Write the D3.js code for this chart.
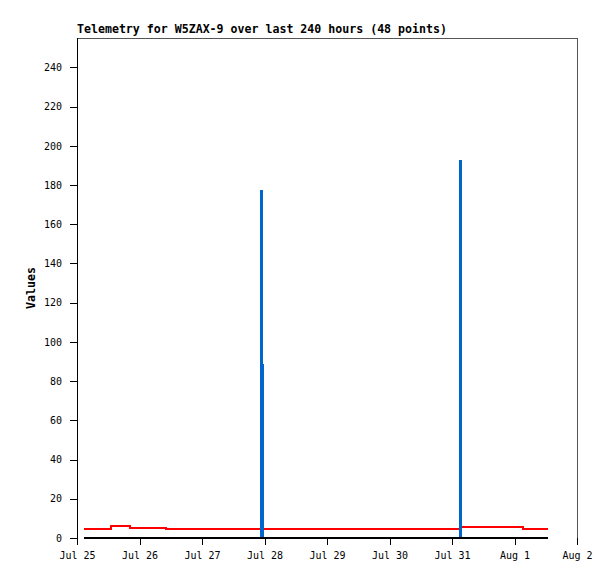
<!DOCTYPE html>
<html>
<head>
<meta charset="utf-8">
<script src="https://cdn.jsdelivr.net/npm/d3@7"></script>
<style>
  body { margin: 0; background: #fff; }
  #chart { width: 615px; height: 579px; }
  text { font-family: "DejaVu Sans Mono", "Liberation Mono", monospace; fill: #000; }
</style>
</head>
<body>
<div id="chart"></div>
<script>
"use strict";

// hours after Jul 25 00:00 for each of the 48 telemetry packets
const hours = [2.8, 6.5, 10.2, 13.1, 16.9, 20.4, 24.3, 28.0, 31.2, 34.1, 38.0, 42.5,
    47.1, 51.6, 55.8, 60.3, 64.9, 68.2, 70.6, 71.0, 71.4, 75.4, 80.1, 85.0,
    90.3, 95.2, 100.4, 105.6, 110.7, 115.9, 121.0, 126.2, 131.3, 136.5, 141.6, 145.2,
    147.0, 147.4, 151.8, 155.9, 160.2, 164.6, 168.3, 171.1, 174.0, 176.6, 179.0, 181.0];

const redValues = [4.6, 4.6, 4.6, 6.0, 6.0, 5.3, 5.3, 5.3, 5.3, 4.6, 4.6, 4.6,
    4.6, 4.6, 4.6, 4.6, 4.6, 4.6, 4.6, 4.6, 4.6, 4.6, 4.6, 4.6,
    4.6, 4.6, 4.6, 4.6, 4.6, 4.6, 4.6, 4.6, 4.6, 4.6, 4.6, 4.6,
    4.6, 5.6, 5.6, 5.6, 5.6, 5.6, 5.6, 4.6, 4.6, 4.6, 4.6, 4.6];

const blueValues = [0, 0, 0, 0, 0, 0, 0, 0, 0, 0, 0, 0,
    0, 0, 0, 0, 0, 0, 177, 88, 0, 0, 0, 0,
    0, 0, 0, 0, 0, 0, 0, 0, 0, 0, 0, 0,
    192.5, 0, 0, 0, 0, 0, 0, 0, 0, 0, 0, 0];

const blackValues = [0, 0, 0, 0, 0, 0, 0, 0, 0, 0, 0, 0,
    0, 0, 0, 0, 0, 0, 0, 0, 0, 0, 0, 0,
    0, 0, 0, 0, 0, 0, 0, 0, 0, 0, 0, 0,
    0, 0, 0, 0, 0, 0, 0, 0, 0, 0, 0, 0];

const yTicks = [0, 20, 40, 60, 80, 100, 120, 140, 160, 180, 200, 220, 240];
const startDate = Date.UTC(2024, 6, 25);
const endDate = Date.UTC(2024, 7, 2);

function drawChart() {
    const width = 615, height = 579;
    const margin = { top: 38, left: 77, right: 38, bottom: 41 };

    const svg = d3.select("#chart").append("svg")
        .attr("width", width)
        .attr("height", height);

    // Scales
    const x = d3.scaleUtc()
        .domain([new Date(startDate), new Date(endDate)])
        .range([margin.left, width - margin.right]);
    const y = d3.scaleLinear()
        .domain([0, 255])
        .range([height - margin.bottom, margin.top]);

    const times = hours.map(h => new Date(startDate + h * 3600 * 1000));

    // Frame (top and right are grey, left is black)
    svg.append("path")
        .attr("d", `M${x.range()[0]},${y(255)}H${x.range()[1]}V${y(0) + 7}`)
        .attr("fill", "none")
        .attr("stroke", "#555")
        .attr("stroke-width", 1)
        .attr("shape-rendering", "crispEdges");

    // Y axis
    const yAxis = svg.append("g")
        .attr("transform", `translate(${margin.left},0)`)
        .call(d3.axisLeft(y).tickValues(yTicks).tickSize(7).tickPadding(8));
    yAxis.select(".domain").remove();
    yAxis.selectAll("text").style("font-size", "10px");
    yAxis.selectAll("line").attr("shape-rendering", "crispEdges");
    svg.append("line")
        .attr("x1", margin.left).attr("x2", margin.left)
        .attr("y1", y(255)).attr("y2", y(0) + 7)
        .attr("stroke", "#000")
        .attr("shape-rendering", "crispEdges");

    // X axis (ticks only)
    const xAxis = svg.append("g")
        .attr("transform", `translate(0,${y(0)})`)
        .call(d3.axisBottom(x).ticks(d3.utcDay.every(1)).tickFormat(d3.utcFormat("%b %-d"))
            .tickSize(7).tickPadding(7));
    xAxis.select(".domain").remove();
    xAxis.selectAll("text").style("font-size", "10px");
    xAxis.selectAll("line").attr("shape-rendering", "crispEdges");

    // Series lines: red, then blue, black last so the zero line stays black
    const series = [
        { values: redValues, color: "#ff0000" },
        { values: blueValues, color: "#0066cc" },
        { values: blackValues, color: "#000000" }
    ];

    series.forEach(s => {
        const line = d3.line()
            .x((d, i) => x(times[i]))
            .y(d => y(d))
            .curve(d3.curveStepAfter);
        svg.append("path")
            .datum(s.values)
            .attr("d", line)
            .attr("fill", "none")
            .attr("stroke", s.color)
            .attr("stroke-width", 2)
            .attr("shape-rendering", "crispEdges");
    });

    // Title
    svg.append("text")
        .attr("x", margin.left)
        .attr("y", 33)
        .style("font-size", "11.6px")
        .style("font-weight", "bold")
        .text("Telemetry for W5ZAX-9 over last 240 hours (48 points)");

    // Y axis label
    svg.append("text")
        .attr("transform", `translate(35,${(y(0) + y(255)) / 2}) rotate(-90)`)
        .attr("text-anchor", "middle")
        .style("font-size", "11.6px")
        .style("font-weight", "bold")
        .text("Values");
}

drawChart();
</script>
</body>
</html>
